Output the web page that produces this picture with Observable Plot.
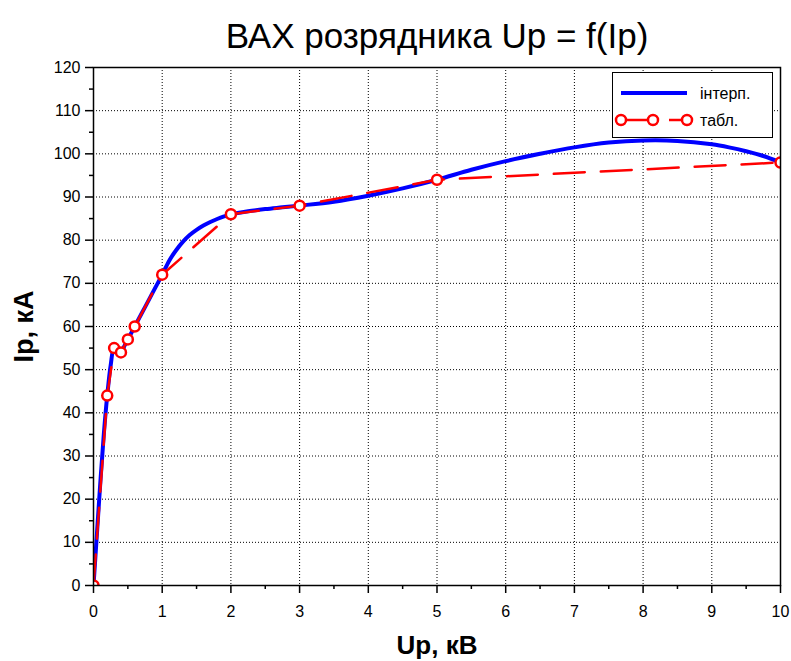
<!DOCTYPE html>
<html><head><meta charset="utf-8">
<script src="https://cdn.jsdelivr.net/npm/d3@7"></script>
<script src="https://cdn.jsdelivr.net/npm/@observablehq/plot@0.6"></script>
<style>
body{margin:0;background:#fff;font-family:"Liberation Sans",Arial,sans-serif;}
#wrap{position:relative;width:791px;height:661px;}
#legend{position:absolute;left:612px;top:72px;width:161px;height:66px;border:1px solid #000;background:#fff;box-sizing:border-box;}
#legend svg{display:block;}
</style></head><body><div id="wrap"></div>
<script>
const title = "ВАХ розрядника Up = f(Ip)";
const xLabel = "Up, кВ";
const yLabel = "Ip, кА";
const seriesNames = ["інтерп.", "табл."];

// tabulated points
const tableU = [0, 0.2, 0.3, 0.4, 0.5, 0.6, 1, 2, 3, 5, 10];
const tableI = [0, 44, 55, 54, 57, 60, 72, 86, 88, 94, 98];

// interpolated curve
const interpU = [0, 0.05, 0.1, 0.15, 0.2, 0.25, 0.3, 0.35, 0.4, 0.45, 0.5, 0.55, 0.6, 0.7, 0.8, 0.9, 1, 1.1, 1.2, 1.3, 1.4, 1.5, 1.6, 1.7, 1.8, 1.9, 2, 2.25, 2.5, 2.75, 3, 3.5, 4, 4.5, 5, 5.5, 6, 6.5, 7, 7.5, 8, 8.5, 9, 9.25, 9.5, 9.75, 10];
const interpI = [0, 12, 24, 35, 44, 51, 55, 54.5, 54, 55.5, 57, 58.5, 60, 63, 66, 69, 72, 75.2, 77.6, 79.6, 81.2, 82.4, 83.4, 84.2, 84.9, 85.5, 86, 86.7, 87.2, 87.6, 88, 88.9, 90.3, 92, 94, 96.3, 98.3, 100, 101.5, 102.6, 103.1, 103.0, 102.2, 101.5, 100.6, 99.5, 98];

const xTicks = [0, 1, 2, 3, 4, 5, 6, 7, 8, 9, 10];
const xMinor = [0.5, 1.5, 2.5, 3.5, 4.5, 5.5, 6.5, 7.5, 8.5, 9.5];
const yTicks = [0, 10, 20, 30, 40, 50, 60, 70, 80, 90, 100, 110, 120];
const yMinor = [5, 15, 25, 35, 45, 55, 65, 75, 85, 95, 105, 115];

const table = tableU.map((u, k) => ({u, i: tableI[k]}));
const interp = interpU.map((u, k) => ({u, i: interpI[k]}));

const chart = Plot.plot({
  width: 791, height: 661,
  marginTop: 67, marginRight: 11, marginBottom: 76, marginLeft: 93,
  style: {fontFamily: '"Liberation Sans", Arial, sans-serif', fontSize: "16px", color: "#000", background: "#fff"},
  x: {domain: [0, 10]},
  y: {domain: [0, 120]},
  marks: [
    Plot.gridX(xTicks.slice(1, -1), {stroke: "#000", strokeOpacity: 1, strokeDasharray: "1,2", strokeWidth: 1}),
    Plot.gridY(yTicks.slice(1, -1), {stroke: "#000", strokeOpacity: 1, strokeDasharray: "1,2", strokeWidth: 1}),
    Plot.line(interp, {x: "u", y: "i", stroke: "#0000ff", strokeWidth: 4, curve: "catmull-rom", clip: true}),
    Plot.line(table, {x: "u", y: "i", stroke: "#ff0000", strokeWidth: 2.5, strokeDasharray: "31,16", clip: true}),
    Plot.dot(table, {x: "u", y: "i", r: 5, stroke: "#ff0000", fill: "#fff", strokeWidth: 2.5, clip: true}),
    Plot.frame({stroke: "#000", strokeWidth: 1.5}),
    Plot.axisX(xTicks, {tickSize: 8, tickPadding: 12, fontSize: 16, label: null, strokeWidth: 1.5}),
    Plot.axisX(xMinor, {tickSize: 4, tickFormat: () => "", label: null, strokeWidth: 1.5}),
    Plot.axisY(yTicks, {tickSize: 8, tickPadding: 5, fontSize: 16, label: null, strokeWidth: 1.5}),
    Plot.axisY(yMinor, {tickSize: 4, tickFormat: () => "", label: null, strokeWidth: 1.5}),
    Plot.text([title], {frameAnchor: "top", lineAnchor: "middle", textAnchor: "middle", dy: -31, fontSize: 35, fill: "#000"}),
    Plot.text([xLabel], {frameAnchor: "bottom", lineAnchor: "middle", textAnchor: "middle", dy: 60, fontSize: 26, fontWeight: "bold", fill: "#000"}),
    Plot.text([yLabel], {frameAnchor: "left", lineAnchor: "middle", textAnchor: "middle", dx: -69, rotate: -90, fontSize: 27, fontWeight: "bold", fill: "#000"})
  ]
});
const wrap = document.getElementById("wrap");
wrap.appendChild(chart);

const leg = document.createElement("div");
leg.id = "legend";
leg.innerHTML = `<svg width="159" height="64" font-family="Liberation Sans, Arial, sans-serif" font-size="16">
  <line x1="8" x2="74" y1="20" y2="20" stroke="#0000ff" stroke-width="4"/>
  <text x="87" y="20" dy="0.35em" fill="#000">${seriesNames[0]}</text>
  <line x1="8" x2="40" y1="47" y2="47" stroke="#ff0000" stroke-width="2.5"/>
  <line x1="56" x2="74" y1="47" y2="47" stroke="#ff0000" stroke-width="2.5"/>
  <circle cx="8" cy="47" r="5" fill="#fff" stroke="#ff0000" stroke-width="2.5"/>
  <circle cx="40" cy="47" r="5" fill="#fff" stroke="#ff0000" stroke-width="2.5"/>
  <circle cx="74" cy="47" r="5" fill="#fff" stroke="#ff0000" stroke-width="2.5"/>
  <text x="87" y="47" dy="0.35em" fill="#000">${seriesNames[1]}</text>
</svg>`;
wrap.appendChild(leg);
</script>
</body></html>
